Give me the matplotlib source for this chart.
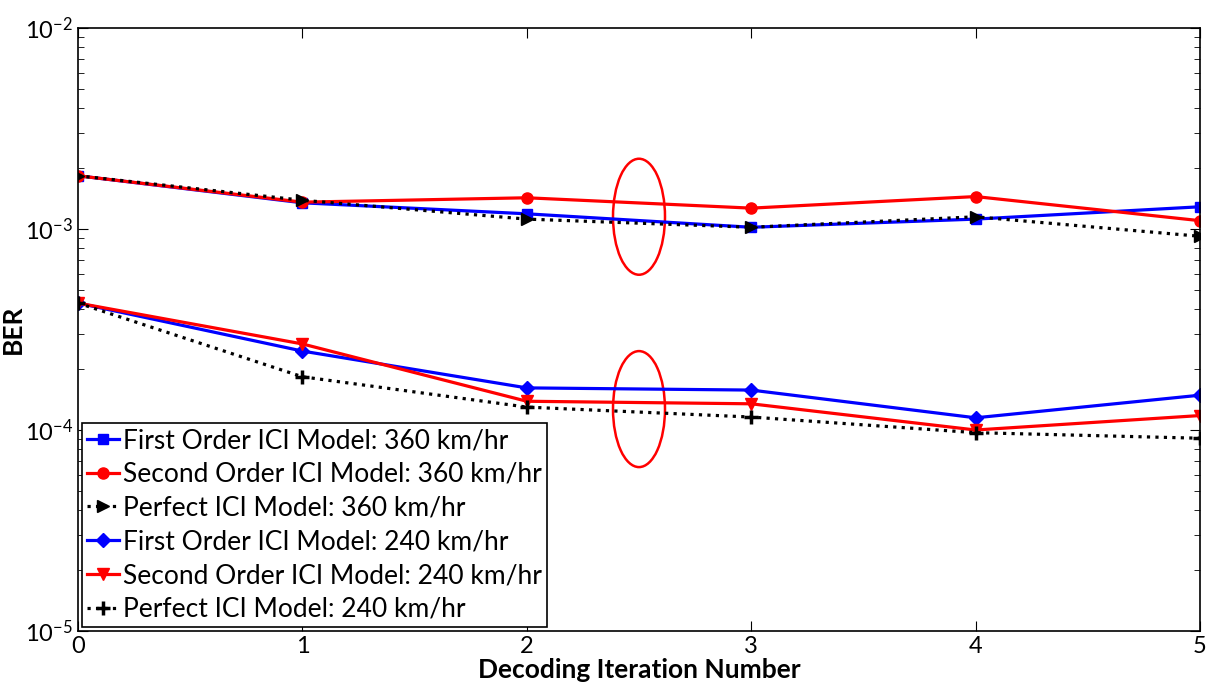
import numpy as np
import matplotlib.pyplot as plt
from matplotlib.patches import Ellipse

plt.rcParams.update({'font.family': 'Lato', 'mathtext.fontset': 'custom',
                     'mathtext.rm': 'Lato', 'mathtext.default': 'regular'})

iters = [0, 1, 2, 3, 4, 5]

# 360 km/hr
first_360 = [1.84e-3, 1.35e-3, 1.19e-3, 1.02e-3, 1.12e-3, 1.29e-3]
second_360 = [1.84e-3, 1.36e-3, 1.43e-3, 1.27e-3, 1.45e-3, 1.10e-3]
perfect_360 = [1.84e-3, 1.39e-3, 1.12e-3, 1.02e-3, 1.15e-3, 0.92e-3]

# 240 km/hr
first_240 = [4.28e-4, 2.47e-4, 1.62e-4, 1.58e-4, 1.15e-4, 1.49e-4]
second_240 = [4.28e-4, 2.68e-4, 1.39e-4, 1.35e-4, 1.00e-4, 1.18e-4]
perfect_240 = [4.28e-4, 1.84e-4, 1.30e-4, 1.16e-4, 0.97e-4, 0.91e-4]

labels = ['First Order ICI Model: 360 km/hr',
          'Second Order ICI Model: 360 km/hr',
          'Perfect ICI Model: 360 km/hr',
          'First Order ICI Model: 240 km/hr',
          'Second Order ICI Model: 240 km/hr',
          'Perfect ICI Model: 240 km/hr']

fig = plt.figure(figsize=(12.16, 6.89), dpi=100)
ax = fig.add_axes([78/1216, 58/689, 1122/1216, 603/689])

lw = 2.3
ax.semilogy(iters, first_360, '-s', color='blue', lw=lw, ms=7, label=labels[0])
ax.semilogy(iters, second_360, '-o', color='red', lw=lw, ms=8, label=labels[1])
ax.semilogy(iters, perfect_360, ':>', color='black', lw=lw, ms=9, label=labels[2])
ax.semilogy(iters, first_240, '-D', color='blue', lw=lw, ms=7, label=labels[3])
ax.semilogy(iters, second_240, '-v', color='red', lw=lw, ms=9, label=labels[4])
ax.semilogy(iters, perfect_240, ':+', color='black', lw=lw, ms=10, mew=2.5, label=labels[5])

# circles marking the two speed groups
for yc in [0.687, 0.368]:
    ax.add_patch(Ellipse((0.5, yc), 52/1122, 116/603, transform=ax.transAxes,
                         fill=False, edgecolor='red', lw=1.8))

ax.set_xlim(0, 5)
ax.set_ylim(1e-5, 1e-2)
ax.set_xticks(iters)
ax.tick_params(which='both', direction='in', top=True, right=True, labelsize=17)
ax.tick_params(which='major', length=7)
ax.tick_params(which='minor', length=4)
for s in ax.spines.values():
    s.set_linewidth(1.2)

ax.set_xlabel('Decoding Iteration Number', fontsize=19, fontweight='bold', labelpad=1)
ax.set_ylabel('BER', fontsize=19, fontweight='bold')
ax.yaxis.set_label_coords(-0.047, 0.5)

leg = ax.legend(loc='lower left', fontsize=19, fancybox=False, edgecolor='black',
                framealpha=1, borderpad=0.2, labelspacing=0.33, handlelength=1.2,
                handletextpad=0.15, borderaxespad=0.15)
leg.get_frame().set_linewidth(1.2)

fig.savefig('out.png', dpi=100)
